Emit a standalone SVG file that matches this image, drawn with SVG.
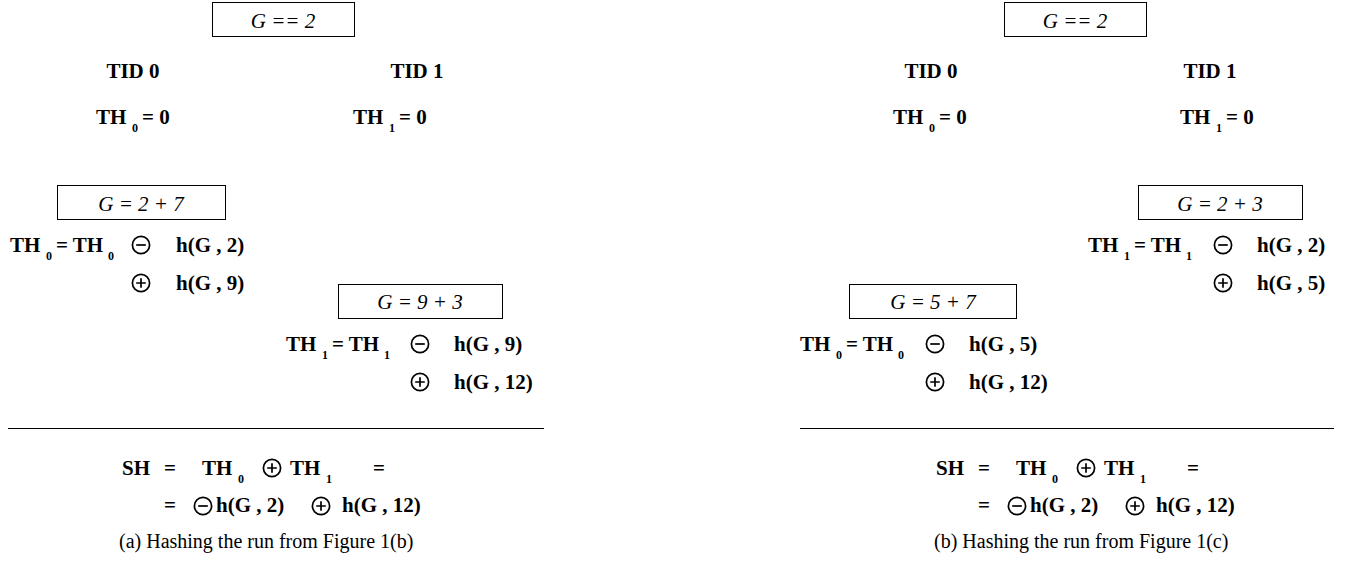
<svg xmlns="http://www.w3.org/2000/svg" width="1348" height="570" viewBox="0 0 1348 570">
<style>
text { font-family: "Liberation Serif", "Times New Roman", serif; fill: #000; }
.b { font-weight: bold; font-size: 21px; }
.s { font-weight: bold; font-size: 12px; }
.i { font-style: italic; font-size: 21px; }
.r { font-size: 20px; }
.m { text-anchor: middle; }
.box { fill: #fff; stroke: #000; stroke-width: 1; }
.sep { stroke: #000; stroke-width: 1; }
.op { fill: none; stroke: #000; stroke-width: 1.7; }
</style>
<defs>
<g id="ominus"><circle class="op" cx="0" cy="0" r="8.6"/><path class="op" d="M-4.8 0H4.8"/></g>
<g id="oplus"><circle class="op" cx="0" cy="0" r="8.6"/><path class="op" d="M-4.8 0H4.8M0 -4.8V4.8"/></g>
</defs>
<rect width="1348" height="570" fill="#fff"/>

<!-- Panel (a) -->
<g id="a-cond-init"><rect class="box" x="212.5" y="2.5" width="142" height="34"/><text class="i m" x="283" y="28">G == 2</text></g>
<g id="a-tid0"><text class="b m" x="133" y="78">TID 0</text></g>
<g id="a-tid1"><text class="b m" x="417" y="78">TID 1</text></g>
<g id="a-th0-init"><text class="b" x="96" y="124">TH</text><text class="s" x="132" y="132">0</text><text class="b" x="142" y="124">= 0</text></g>
<g id="a-th1-init"><text class="b" x="353" y="124">TH</text><text class="s" x="389" y="132">1</text><text class="b" x="399" y="124">= 0</text></g>
<g id="a-cond-0"><rect class="box" x="57.5" y="185.5" width="168" height="34"/><text class="i m" x="141" y="211">G = 2 + 7</text></g>
<g id="a-upd-0">
<text class="b" x="10" y="252">TH</text><text class="s" x="46" y="260">0</text><text class="b" x="56" y="252">= TH</text><text class="s" x="108" y="260">0</text>
<use href="#ominus" x="141" y="245"/><text class="b" x="176" y="252">h(G , 2)</text>
<use href="#oplus" x="141" y="283"/><text class="b" x="176" y="290">h(G , 9)</text>
</g>
<g id="a-cond-1"><rect class="box" x="338.5" y="284.5" width="164" height="34"/><text class="i m" x="420" y="309">G = 9 + 3</text></g>
<g id="a-upd-1">
<text class="b" x="286" y="351">TH</text><text class="s" x="322" y="359">1</text><text class="b" x="332" y="351">= TH</text><text class="s" x="384" y="359">1</text>
<use href="#ominus" x="420" y="344"/><text class="b" x="454" y="351">h(G , 9)</text>
<use href="#oplus" x="420" y="382"/><text class="b" x="454" y="389">h(G , 12)</text>
</g>
<g id="connectors"><line class="sep" x1="8" y1="428.5" x2="544" y2="428.5"/><line class="sep" x1="800" y1="428.5" x2="1334" y2="428.5"/></g>
<g id="a-sum">
<text class="b" x="122" y="475">SH</text><text class="b" x="164" y="475">=</text>
<text class="b" x="202" y="475">TH</text><text class="s" x="238" y="483">0</text>
<use href="#oplus" x="272" y="468"/>
<text class="b" x="290" y="475">TH</text><text class="s" x="326" y="483">1</text>
<text class="b" x="373" y="475">=</text>
<text class="b" x="164" y="512">=</text><use href="#ominus" x="203" y="506"/><text class="b" x="216" y="512">h(G , 2)</text>
<use href="#oplus" x="321" y="506"/><text class="b" x="342" y="512">h(G , 12)</text>
</g>
<g id="a-caption"><text class="r" x="119" y="548">(a)  Hashing the run from Figure 1(b)</text></g>

<!-- Panel (b) -->
<g id="b-cond-init"><rect class="box" x="1004.5" y="2.5" width="142" height="34"/><text class="i m" x="1075" y="28">G == 2</text></g>
<g id="b-tid0"><text class="b m" x="931" y="78">TID 0</text></g>
<g id="b-tid1"><text class="b m" x="1210" y="78">TID 1</text></g>
<g id="b-th0-init"><text class="b" x="893" y="124">TH</text><text class="s" x="929" y="132">0</text><text class="b" x="939" y="124">= 0</text></g>
<g id="b-th1-init"><text class="b" x="1180" y="124">TH</text><text class="s" x="1216" y="132">1</text><text class="b" x="1226" y="124">= 0</text></g>
<g id="b-cond-1"><rect class="box" x="1138.5" y="185.5" width="164" height="34"/><text class="i m" x="1220" y="211">G = 2 + 3</text></g>
<g id="b-upd-1">
<text class="b" x="1088" y="252">TH</text><text class="s" x="1124" y="260">1</text><text class="b" x="1134" y="252">= TH</text><text class="s" x="1186" y="260">1</text>
<use href="#ominus" x="1223" y="245"/><text class="b" x="1257" y="252">h(G , 2)</text>
<use href="#oplus" x="1223" y="283"/><text class="b" x="1257" y="290">h(G , 5)</text>
</g>
<g id="b-cond-0"><rect class="box" x="849.5" y="284.5" width="167" height="34"/><text class="i m" x="933" y="309">G = 5 + 7</text></g>
<g id="b-upd-0">
<text class="b" x="800" y="351">TH</text><text class="s" x="836" y="359">0</text><text class="b" x="846" y="351">= TH</text><text class="s" x="898" y="359">0</text>
<use href="#ominus" x="935" y="344"/><text class="b" x="969" y="351">h(G , 5)</text>
<use href="#oplus" x="935" y="382"/><text class="b" x="969" y="389">h(G , 12)</text>
</g>
<g id="b-sum">
<text class="b" x="936" y="475">SH</text><text class="b" x="978" y="475">=</text>
<text class="b" x="1016" y="475">TH</text><text class="s" x="1052" y="483">0</text>
<use href="#oplus" x="1086" y="468"/>
<text class="b" x="1104" y="475">TH</text><text class="s" x="1140" y="483">1</text>
<text class="b" x="1187" y="475">=</text>
<text class="b" x="978" y="512">=</text><use href="#ominus" x="1017" y="506"/><text class="b" x="1030" y="512">h(G , 2)</text>
<use href="#oplus" x="1135" y="506"/><text class="b" x="1156" y="512">h(G , 12)</text>
</g>
<g id="b-caption"><text class="r" x="934" y="548">(b)  Hashing the run from Figure 1(c)</text></g>
</svg>
